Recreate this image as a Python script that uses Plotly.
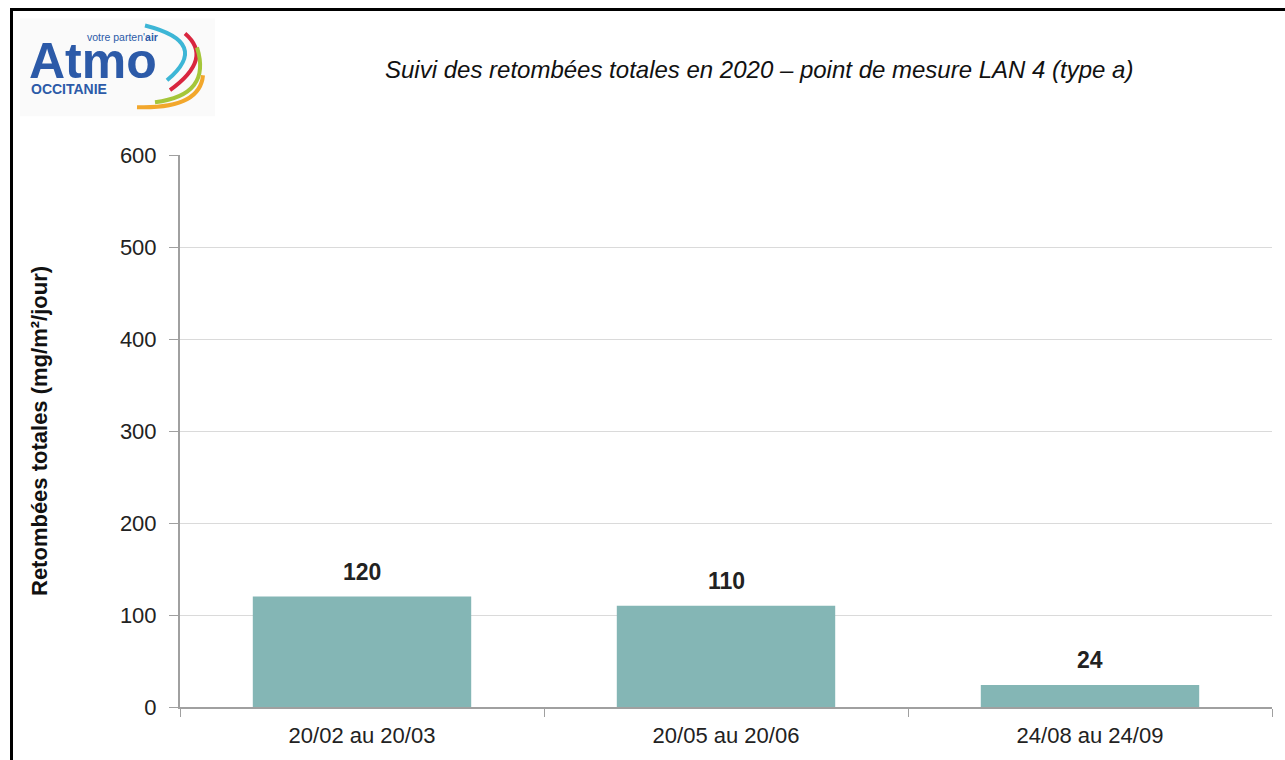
import plotly.graph_objects as go

categories = ["20/02 au 20/03", "20/05 au 20/06", "24/08 au 24/09"]
values = [120, 110, 24]
y_ticks = [0, 100, 200, 300, 400, 500, 600]

title_text = "Suivi des retombées totales en 2020 – point de mesure LAN 4 (type a)"
y_title = "Retombées totales (mg/m²/jour)"

W, H = 1285, 760
L, R, T, B = 180, 13, 155, 51
PW, PH = W - L - R, H - T - B

FONT = "Liberation Sans Narrow, Arial Narrow, Liberation Sans, Arial, sans-serif"
LOGO_FONT = "Liberation Sans, Arial, sans-serif"


def px(x):
    return (x - L) / PW


def py(y):
    return (H - B - y) / PH


fig = go.Figure()
fig.add_trace(go.Bar(
    x=categories, y=values,
    marker=dict(color="#84B6B5", line=dict(width=0)),
    width=0.6,
    cliponaxis=False,
    hoverinfo="x+y",
))

shapes = []
# frame lines
shapes.append(dict(type="line", xref="paper", yref="paper",
                   x0=px(10), x1=px(1290), y0=py(9), y1=py(9),
                   line=dict(color="black", width=3)))
shapes.append(dict(type="line", xref="paper", yref="paper",
                   x0=px(11.5), x1=px(11.5), y0=py(9), y1=py(770),
                   line=dict(color="black", width=3)))
# logo background
shapes.append(dict(type="rect", xref="paper", yref="paper",
                   x0=px(20), x1=px(215), y0=py(18), y1=py(116),
                   fillcolor="#FAFAFA", line=dict(width=0), layer="below"))


def arc(p0, c, p1, color, w=4):
    path = "M {} {} Q {} {} {} {}".format(px(p0[0]), py(p0[1]), px(c[0]), py(c[1]), px(p1[0]), py(p1[1]))
    return dict(type="path", xref="paper", yref="paper", path=path,
                line=dict(color=color, width=w))


shapes.append(arc((145, 25), (212, 42), (167, 80), "#3DB6D6", 4))
shapes.append(arc((185, 33), (214, 58), (170, 90), "#D9263F", 4))
shapes.append(arc((197, 47), (212, 95), (155, 102), "#A5C63A", 4))
shapes.append(arc((203, 75), (200, 109), (137, 107), "#F2A72C", 4))

annotations = [
    dict(text=title_text, xref="paper", yref="paper", x=px(759), y=py(69),
         xanchor="center", yanchor="middle", showarrow=False,
         font=dict(family=FONT, size=24, color="#111111", style="italic")),
    dict(text="<b>Atmo</b>", xref="paper", yref="paper", x=px(27), y=py(61),
         xanchor="left", yanchor="middle", showarrow=False,
         font=dict(family=LOGO_FONT, size=50, color="#2C5AA8")),
    dict(text="votre parten'<b>air</b>", xref="paper", yref="paper", x=px(85), y=py(37),
         xanchor="left", yanchor="middle", showarrow=False,
         font=dict(family=LOGO_FONT, size=10.5, color="#2C5AA8")),
    dict(text="<b>OCCITANIE</b>", xref="paper", yref="paper", x=px(29), y=py(89),
         xanchor="left", yanchor="middle", showarrow=False,
         font=dict(family=LOGO_FONT, size=14, color="#2C5AA8")),
]

for c, v in zip(categories, values):
    annotations.append(dict(
        text="<b>{}</b>".format(v), x=c, y=v, xref="x", yref="y",
        xanchor="center", yanchor="bottom", yshift=10, showarrow=False,
        font=dict(family=FONT, size=23, color="#222222"),
    ))

fig.update_layout(
    width=W, height=H,
    margin=dict(l=L, r=R, t=T, b=B),
    paper_bgcolor="white", plot_bgcolor="white",
    showlegend=False,
    shapes=shapes,
    annotations=annotations,
    bargap=0.4,
    font=dict(family=FONT, size=21, color="#222222"),
)
fig.update_xaxes(
    showgrid=False, showline=True, linecolor="#A0A0A0", linewidth=2,
    ticks="outside", tickson="boundaries", ticklen=8, tickcolor="#A0A0A0",
    tickfont=dict(family=FONT, size=22, color="#222222"),
    ticklabelstandoff=8,
)
fig.update_yaxes(
    range=[0, 600], tickvals=y_ticks, showgrid=True, gridcolor="#DADADA", gridwidth=1,
    showline=True, linecolor="#A0A0A0", linewidth=2,
    ticks="outside", ticklen=9, tickcolor="#A0A0A0",
    tickfont=dict(family=FONT, size=22, color="#222222"),
    ticklabelstandoff=8,
    title=dict(text="<b>" + y_title + "</b>", standoff=66,
               font=dict(family=FONT, size=22, color="#111111")),
    zeroline=False,
)

fig.write_html("out.html", config={"displayModeBar": False},
               post_script="document.body.style.margin='0';document.body.style.overflow='hidden';")
